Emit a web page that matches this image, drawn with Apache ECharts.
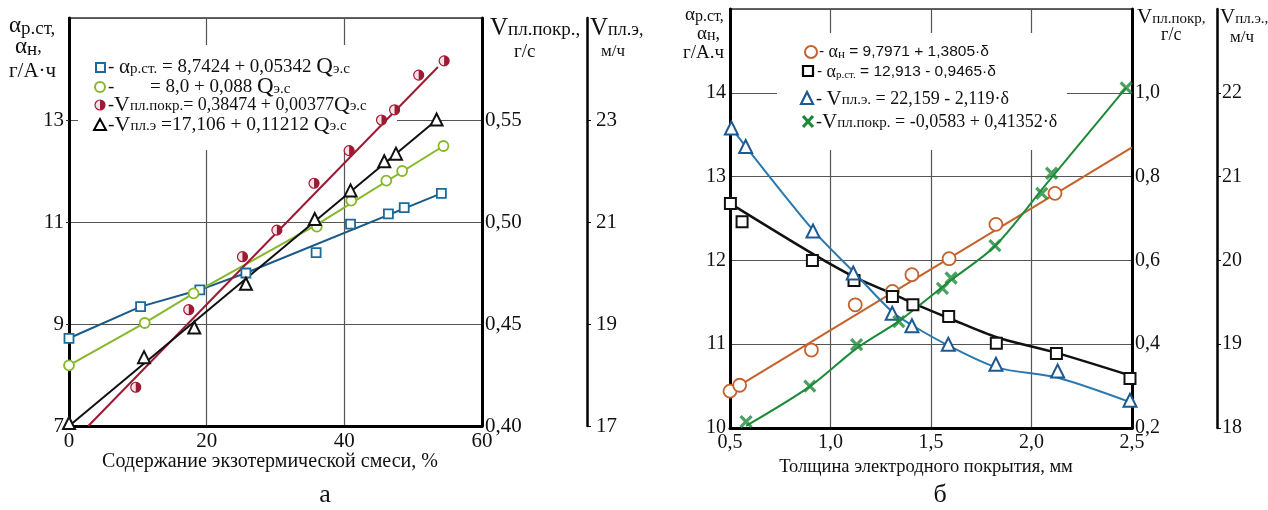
<!DOCTYPE html>
<html><head><meta charset="utf-8">
<script src="https://cdn.jsdelivr.net/npm/echarts@6/dist/echarts.min.js"></script>
<style>html,body{margin:0;padding:0;background:#fff}#c{width:1268px;height:510px}</style>
</head><body><div id="c"></div>
<script>
// ---------- Panel а (x: содержание экзотермической смеси, %) ----------
// αр.ст (squares, left axis)
const aSqX = [0, 10.4, 19.0, 25.7, 35.9, 40.9, 46.4, 48.7, 54.1];
const aSqY = [8.72, 9.34, 9.67, 10.0, 10.40, 10.96, 11.16, 11.28, 11.56];
const aSqLineX = [0, 10.4, 19.0, 25.7, 54.1];
const aSqLineY = [8.72, 9.34, 9.67, 10.0, 11.56];
// αн (circles, left axis)
const aCiX = [0, 11.0, 18.1, 36.0, 41.0, 46.1, 48.4, 54.4];
const aCiY = [8.19, 9.02, 9.60, 10.91, 11.42, 11.81, 12.0, 12.49];
const aCiLineX = [0, 11.0, 18.1, 36.0, 54.4];
const aCiLineY = [8.19, 9.02, 9.60, 10.95, 12.49];
// Vпл.покр (half circles, right axis 1)
const aRdX = [9.7, 17.4, 25.2, 30.2, 35.6, 40.7, 45.4, 47.3, 50.8, 54.5];
const aRdY = [0.419, 0.457, 0.483, 0.496, 0.519, 0.535, 0.550, 0.555, 0.572, 0.579];
const aRdLineX = [2.8, 53.6];
const aRdLineY = [0.40, 0.576];
// Vпл.э (triangles, right axis 2)
const aTrX = [0, 10.9, 18.2, 25.7, 35.7, 40.9, 45.8, 47.5, 53.4];
const aTrY = [17.06, 18.35, 18.93, 19.79, 21.06, 21.62, 22.19, 22.34, 23.01];
const aTrLineX = [0, 53.4];
const aTrLineY = [17.0, 23.0];

// ---------- Panel б (x: толщина электродного покрытия, мм) ----------
// αн (circles, left axis)
const bCiX = [0.50, 0.548, 0.905, 1.123, 1.308, 1.405, 1.59, 1.823, 2.117, 2.504];
const bCiY = [10.44, 10.51, 10.93, 11.47, 11.63, 11.83, 12.02, 12.43, 12.80, 13.35];
const bCiLineX = [0.5, 2.5];
const bCiLineY = [10.44, 13.35];
// αр.ст (squares, left axis)
const bSqX = [0.502, 0.56, 0.91, 1.117, 1.308, 1.41, 1.588, 1.825, 2.124, 2.49];
const bSqY = [12.68, 12.46, 12.0, 11.76, 11.57, 11.47, 11.33, 11.01, 10.89, 10.59];
const bSqLineX = [0.5, 0.91, 1.12, 1.31, 1.41, 1.59, 1.83, 2.12, 2.5];
const bSqLineY = [12.68, 12.08, 11.8, 11.6, 11.49, 11.31, 11.08, 10.9, 10.62];
// Vпл.э (triangles, right axis 2)
const bTrX = [0.507, 0.578, 0.913, 1.113, 1.307, 1.405, 1.586, 1.823, 2.13, 2.49];
const bTrY = [21.58, 21.36, 20.35, 19.85, 19.37, 19.22, 19.0, 18.76, 18.68, 18.33];
const bTrLineX = [0.5, 0.91, 1.12, 1.31, 1.41, 1.59, 1.83, 2.13, 2.5];
const bTrLineY = [21.6, 20.37, 19.85, 19.38, 19.22, 18.98, 18.72, 18.6, 18.3];
// Vпл.покр (crosses, right axis 1)
const bXsX = [0.58, 0.897, 1.13, 1.34, 1.557, 1.60, 1.818, 2.051, 2.10, 2.471];
const bXsY = [0.215, 0.30, 0.399, 0.454, 0.533, 0.558, 0.635, 0.76, 0.808, 1.012];
const bXsLineX = [0.58, 0.9, 1.13, 1.34, 1.6, 1.82, 2.07, 2.47];
const bXsLineY = [0.205, 0.30, 0.39, 0.455, 0.553, 0.635, 0.78, 1.012];

const SERIF = '"Liberation Serif", "DejaVu Serif", serif';
const SANS = '"Liberation Sans", "DejaVu Sans", sans-serif';
const zip = (xs, ys) => xs.map((x, i) => [x, ys[i]]);
const comma = d => v => v.toFixed(d).replace('.', ',');

const C = {
  blue: '#1b6a9c', blueL: '#1a5a88', green: '#86b82a', red: '#9e1a33',
  black: '#111', orange: '#c4622d', dblue: '#1e5a90', dblueL: '#2a78b0', dgreen: '#1d8a3a'
};

const chart = echarts.init(document.getElementById('c'), null, {renderer: 'canvas'});

function lbl(extra) {
  return Object.assign({fontFamily: SERIF, fontSize: 20, color: '#111'}, extra);
}
const split = {show: true, lineStyle: {color: '#555', width: 1.2}};

function lineS(name, xi, yi, xs, ys, color, w, smooth) {
  return {name, type: 'line', xAxisIndex: xi, yAxisIndex: yi, data: zip(xs, ys),
    symbol: 'none', smooth: smooth || false, lineStyle: {color, width: w}, z: 3, silent: true};
}
function scat(name, xi, yi, xs, ys, symbol, size, color, bw, extra) {
  return Object.assign({name, type: 'scatter', xAxisIndex: xi, yAxisIndex: yi, data: zip(xs, ys),
    symbol, symbolSize: size, itemStyle: {color: '#fff', borderColor: color, borderWidth: bw, opacity: 1}, z: 5}, extra || {});
}

const option = {
  animation: false,
  backgroundColor: '#fff',
  textStyle: {fontFamily: SERIF},
  grid: [
    {left: 69, top: 18, right: 786, bottom: 84, show: true, borderColor: '#333', borderWidth: 1.5},
    {left: 730, top: 9, right: 136, bottom: 82, show: true, borderColor: '#333', borderWidth: 1.5}
  ],
  xAxis: [
    {gridIndex: 0, type: 'value', min: 0, max: 60, interval: 20,
      axisLine: {show: true, onZero: false, lineStyle: {color: '#000', width: 3}},
      axisTick: {show: false}, splitLine: split,
      axisLabel: lbl({margin: 5, fontSize: 21})},
    {gridIndex: 1, type: 'value', min: 0.5, max: 2.5, interval: 0.5,
      axisLine: {show: true, onZero: false, lineStyle: {color: '#000', width: 3}},
      axisTick: {show: false}, splitLine: split,
      axisLabel: lbl({margin: 5, formatter: comma(1)})}
  ],
  yAxis: [
    {gridIndex: 0, type: 'value', min: 7, max: 15, interval: 2, position: 'left',
      axisLine: {show: true, onZero: false, lineStyle: {color: '#000', width: 3}},
      axisTick: {show: true, length: 3, lineStyle: {color: '#333'}}, splitLine: split,
      axisLabel: lbl({margin: 5, fontSize: 21, showMaxLabel: false})},
    {gridIndex: 0, type: 'value', min: 0.40, max: 0.60, interval: 0.05, position: 'right',
      axisLine: {show: true, onZero: false, lineStyle: {color: '#000', width: 3}},
      axisTick: {show: false}, splitLine: {show: false},
      axisLabel: lbl({margin: 3, fontSize: 21, showMaxLabel: false, formatter: comma(2)})},
    {gridIndex: 0, type: 'value', min: 17, max: 25, interval: 2, position: 'right', offset: 105,
      axisLine: {show: true, onZero: false, lineStyle: {color: '#000', width: 2.5}},
      axisTick: {show: true, length: 4, lineStyle: {color: '#000'}}, splitLine: {show: false},
      axisLabel: lbl({margin: 9, fontSize: 21, showMaxLabel: false})},
    {gridIndex: 1, type: 'value', min: 10, max: 15, interval: 1, position: 'left',
      axisLine: {show: true, onZero: false, lineStyle: {color: '#000', width: 3}},
      axisTick: {show: false}, splitLine: split,
      axisLabel: lbl({margin: 4, showMaxLabel: false})},
    {gridIndex: 1, type: 'value', min: 0.2, max: 1.2, interval: 0.2, position: 'right',
      axisLine: {show: true, onZero: false, lineStyle: {color: '#000', width: 3}},
      axisTick: {show: false}, splitLine: {show: false},
      axisLabel: lbl({margin: 3, showMaxLabel: false, formatter: comma(1)})},
    {gridIndex: 1, type: 'value', min: 18, max: 23, interval: 1, position: 'right', offset: 85,
      axisLine: {show: true, onZero: false, lineStyle: {color: '#000', width: 2.5}},
      axisTick: {show: true, length: 4, lineStyle: {color: '#000'}}, splitLine: {show: false},
      axisLabel: lbl({margin: 5, showMaxLabel: false})}
  ],
  series: [
    // panel а
    lineS('αр.ст. линия', 0, 0, aSqLineX, aSqLineY, C.blueL, 2),
    lineS('αн линия', 0, 0, aCiLineX, aCiLineY, C.green, 2),
    lineS('Vпл.покр. линия', 0, 1, aRdLineX, aRdLineY, C.red, 2),
    lineS('Vпл.э линия', 0, 2, aTrLineX, aTrLineY, C.black, 2),
    scat('αр.ст.', 0, 0, aSqX, aSqY, 'rect', 9, C.blue, 1.8),
    scat('αн', 0, 0, aCiX, aCiY, 'circle', 10, C.green, 1.8),
    {name: 'Vпл.покр.', type: 'custom', xAxisIndex: 0, yAxisIndex: 1, data: zip(aRdX, aRdY), z: 5,
      renderItem: (params, api) => {
        const p = api.coord([api.value(0), api.value(1)]);
        return {type: 'group', children: [
          {type: 'circle', shape: {cx: p[0], cy: p[1], r: 5}, style: {fill: '#f4e4e8', stroke: C.red, lineWidth: 1.2}},
          {type: 'sector', shape: {cx: p[0], cy: p[1], r: 5, r0: 0, startAngle: -Math.PI / 2, endAngle: Math.PI / 2}, style: {fill: C.red}}
        ]};
      }},
    scat('Vпл.э', 0, 2, aTrX, aTrY, 'triangle', 12, C.black, 2),
    // panel б
    lineS('αн линия б', 1, 3, bCiLineX, bCiLineY, C.orange, 2),
    lineS('αр.ст. линия б', 1, 3, bSqLineX, bSqLineY, C.black, 2.5, 0.3),
    lineS('Vпл.э. линия б', 1, 5, bTrLineX, bTrLineY, C.dblueL, 2, 0.3),
    lineS('Vпл.покр. линия б', 1, 4, bXsLineX, bXsLineY, C.dgreen, 2, 0.3),
    scat('αн б', 1, 3, bCiX, bCiY, 'circle', 13, C.orange, 1.8),
    scat('αр.ст. б', 1, 3, bSqX, bSqY, 'rect', 11, C.black, 2),
    scat('Vпл.э. б', 1, 5, bTrX, bTrY, 'triangle', 13, C.dblue, 2),
    scat('Vпл.покр. б', 1, 4, bXsX, bXsY, 'path://M0,0L10,10M10,0L0,10', 11, C.dgreen, 3.2,
      {itemStyle: {color: 'rgba(0,0,0,0)', borderColor: C.dgreen, borderWidth: 3.2}})
  ],
  graphic: []
};

// ---------- texts (axis titles, legends, captions) ----------
const g = option.graphic;
function T(x, y, text, rich, fs, fam, extra) {
  g.push({type: 'text', z: 110, style: Object.assign({
    x, y, text, rich: rich || {}, fontSize: fs || 18, fontFamily: fam || SERIF, fill: '#111',
    textAlign: 'left', textVerticalAlign: 'middle'}, extra || {})});
}
const sub = (fs, dy) => ({fontSize: fs, fontFamily: SERIF, fill: '#111', padding: [dy || 0, 0, 0, 0]});
const big = fs => ({fontSize: fs, fontFamily: SERIF, fill: '#111'});

// Panel а axis titles
T(9, 26, '{a|α}{s|р.ст,}', {a: big(23), s: sub(19, 6)});
T(15, 47, '{a|α}{s|н},', {a: big(23), s: sub(19, 6)});
T(9, 71, 'г/А·ч', null, 21);
T(490, 28, '{v|V}{s|пл.покр.,}', {v: big(25), s: sub(19, 4)});
T(514, 52, 'г/с', null, 19);
T(590, 28, '{v|V}{s|пл.э,}', {v: big(25), s: sub(18, 4)});
T(601, 52, 'м/ч', null, 17);
// Panel б axis titles
T(685, 15, '{a|α}{s|р.ст,}', {a: big(19), s: sub(16, 4)});
T(697, 34, '{a|α}{s|н},', {a: big(19), s: sub(16, 4)});
T(683, 53, 'г/А.ч', null, 19);
T(1137, 17, '{v|V}{s|пл.покр,}', {v: big(21), s: sub(15, 4)});
T(1161, 35, 'г/с', null, 18);
T(1220, 17, '{v|V}{s|пл.э.,}', {v: big(21), s: sub(15, 4)});
T(1230, 38, 'м/ч', null, 17);
// x titles and captions
T(270, 462, 'Содержание экзотермической смеси, %', null, 20, SERIF, {textAlign: 'center'});
T(926, 467, 'Толщина электродного покрытия, мм', null, 18.5, SERIF, {textAlign: 'center'});
T(325, 495, 'а', null, 26, SERIF, {textAlign: 'center'});
T(940, 495, 'б', null, 26, SERIF, {textAlign: 'center'});

// Legend panel а (white box below the series, above the grid lines)
g.push({type: 'rect', z: 1, shape: {x: 78, y: 45, width: 319, height: 105}, style: {fill: '#fff'}});
g.push({type: 'rect', z: 110, shape: {x: 96, y: 63, width: 9, height: 9}, style: {fill: '#fff', stroke: C.blue, lineWidth: 2}});
T(108, 67, '- {a|α}{s|р.ст.} = 8,7424 + 0,05342 {q|Q}{s|э.с}', {a: big(21), q: big(23), s: sub(15, 5)}, 19);
g.push({type: 'circle', z: 110, shape: {cx: 100, cy: 87, r: 5}, style: {fill: '#fff', stroke: C.green, lineWidth: 2}});
T(108, 87, '-', null, 19);
T(150, 87, '= 8,0 + 0,088 {q|Q}{s|э.с}', {q: big(23), s: sub(15, 5)}, 19);
g.push({type: 'circle', z: 110, shape: {cx: 100, cy: 105, r: 5}, style: {fill: '#f4e4e8', stroke: C.red, lineWidth: 1.2}});
g.push({type: 'sector', z: 111, shape: {cx: 100, cy: 105, r: 5, r0: 0, startAngle: -Math.PI / 2, endAngle: Math.PI / 2}, style: {fill: C.red}});
T(108, 105, '-{v|V}{s|пл.покр.}= 0,38474 + 0,00377{q|Q}{s|э.с}', {v: big(22), q: big(22), s: sub(15, 2)}, 18);
g.push({type: 'polygon', z: 110, shape: {points: [[100, 119], [94, 130], [106, 130]]}, style: {fill: '#fff', stroke: '#000', lineWidth: 2}});
T(108, 125, '-{v|V}{s|пл.э} =17,106 + 0,11212 {q|Q}{s|э.с}', {v: big(22), q: big(22), s: sub(15, 2)}, 19.5);

// Legend panel б
g.push({type: 'rect', z: 1, shape: {x: 777, y: 33, width: 290, height: 117}, style: {fill: '#fff'}});
g.push({type: 'circle', z: 110, shape: {cx: 811, cy: 52, r: 6}, style: {fill: '#fff', stroke: C.orange, lineWidth: 2}});
T(819, 52, '- {a|α}{s|н} = 9,7971 + 1,3805·δ', {a: {fontSize: 18, fontFamily: SERIF}, s: {fontSize: 13, fontFamily: SERIF, padding: [6, 0, 0, 0]}}, 15.5, SANS);
g.push({type: 'rect', z: 110, shape: {x: 803, y: 66, width: 10, height: 10}, style: {fill: '#fff', stroke: '#000', lineWidth: 2.2}});
T(817, 72, '- {a|α}{s|р.ст.} = 12,913 - 0,9465·δ', {a: {fontSize: 18, fontFamily: SERIF}, s: {fontSize: 11, fontFamily: SERIF, padding: [6, 0, 0, 0]}}, 15.5, SANS);
g.push({type: 'polygon', z: 110, shape: {points: [[807, 92], [801, 104], [813, 104]]}, style: {fill: '#fff', stroke: C.dblue, lineWidth: 2.2}});
T(816, 99, '- {v|V}{s|пл.э.} = 22,159 - 2,119·δ', {v: big(21), s: sub(15, 3)}, 18);
g.push({type: 'polyline', z: 110, shape: {points: [[803, 116], [813, 127]]}, style: {stroke: C.dgreen, lineWidth: 3.2}});
g.push({type: 'polyline', z: 110, shape: {points: [[813, 116], [803, 127]]}, style: {stroke: C.dgreen, lineWidth: 3.2}});
T(816, 122, '-{v|V}{s|пл.покр.} = -0,0583 + 0,41352·δ', {v: big(21), s: sub(15, 3)}, 18);

chart.setOption(option);
</script></body></html>
